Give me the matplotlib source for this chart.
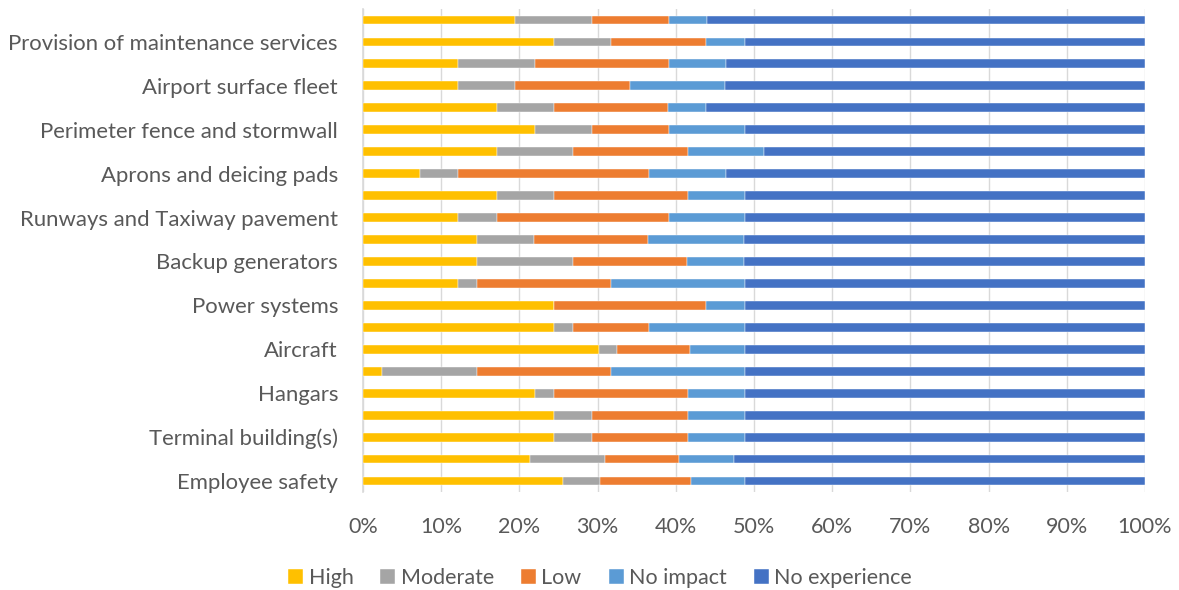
import matplotlib
matplotlib.use("Agg")
import matplotlib.pyplot as plt
import numpy as np

plt.rcParams['font.family'] = ['Lato', 'DejaVu Sans']

# Category labels (top to bottom); every other category carries a visible label
labels = [
    "", "Provision of maintenance services",
    "", "Airport surface fleet",
    "", "Perimeter fence and stormwall",
    "", "Aprons and deicing pads",
    "", "Runways and Taxiway pavement",
    "", "Backup generators",
    "", "Power systems",
    "", "Aircraft",
    "", "Hangars",
    "", "Terminal building(s)",
    "", "Employee safety",
]

series_names = ["High", "Moderate", "Low", "No impact", "No experience"]

# Percent share of responses per category (top to bottom)
high = [19.5, 24.4, 12.2, 12.2, 17.1, 22.0, 17.1, 7.3, 17.1, 12.2, 14.6,
        14.6, 12.2, 24.4, 24.4, 30.2, 2.4, 22.0, 24.4, 24.4, 21.4, 25.6]
moderate = [9.8, 7.3, 9.8, 7.3, 7.3, 7.3, 9.8, 4.9, 7.3, 4.9, 7.3,
            12.2, 2.4, 0.0, 2.4, 2.3, 12.2, 2.4, 4.9, 4.9, 9.5, 4.7]
low = [9.8, 12.2, 17.1, 14.6, 14.6, 9.8, 14.6, 24.4, 17.1, 22.0, 14.6,
       14.6, 17.1, 19.5, 9.8, 9.3, 17.1, 17.1, 12.2, 12.2, 9.5, 11.6]
no_impact = [4.9, 4.9, 7.3, 12.2, 4.9, 9.8, 9.8, 9.8, 7.3, 9.8, 12.2,
             7.3, 17.1, 4.9, 12.2, 7.0, 17.1, 7.3, 7.3, 7.3, 7.1, 7.0]
no_experience = [56.0, 51.2, 53.6, 53.7, 56.1, 51.1, 48.7, 53.6, 51.2, 51.1, 51.3,
                 51.3, 51.2, 51.2, 51.2, 51.2, 51.2, 51.2, 51.2, 51.2, 52.5, 51.1]

colors = ["#FFC000", "#A5A5A5", "#ED7D31", "#5B9BD5", "#4472C4"]
text_color = "#595959"
grid_color = "#D9D9D9"
font_size = 15.5

fig = plt.figure(figsize=(11.79, 5.90), dpi=100)
ax = fig.add_axes([363 / 1179, 1 - 492 / 590, (1145 - 363) / 1179, (492 - 9) / 590])

y = np.arange(len(labels))
left = np.zeros(len(labels))
for name, vals, col in zip(series_names,
                           [high, moderate, low, no_impact, no_experience],
                           colors):
    vals = np.array(vals)
    ax.barh(y, vals, left=left, height=0.4, color=col, label=name,
            edgecolor="white", linewidth=0.3, zorder=3)
    left += vals

ax.set_xlim(0, 100)
ax.set_ylim(len(labels) - 0.5, -0.5)
ax.set_xticks(np.arange(0, 101, 10))
ax.set_xticklabels([f"{v}%" for v in range(0, 101, 10)])
ax.set_yticks(y)
ax.set_yticklabels(labels)

ax.grid(axis="x", color=grid_color, linewidth=1.0, zorder=0)
ax.set_axisbelow(True)
for side in ["top", "right", "bottom"]:
    ax.spines[side].set_visible(False)
ax.spines["left"].set_color(grid_color)
ax.spines["left"].set_linewidth(1.2)

ax.tick_params(axis="both", length=0, labelsize=font_size, colors=text_color)
ax.tick_params(axis="x", pad=18)
ax.tick_params(axis="y", pad=18)
for lbl in ax.get_yticklabels():
    lbl.set_fontsize(15.9)

fig.legend(loc="center", bbox_to_anchor=(600 / 1179, 1 - 578 / 590), ncol=5,
           frameon=False, fontsize=font_size, labelcolor=text_color,
           handlelength=0.7, handleheight=0.7, handletextpad=0.25,
           columnspacing=1.25)

fig.savefig("out.png", dpi=100, facecolor="white")
